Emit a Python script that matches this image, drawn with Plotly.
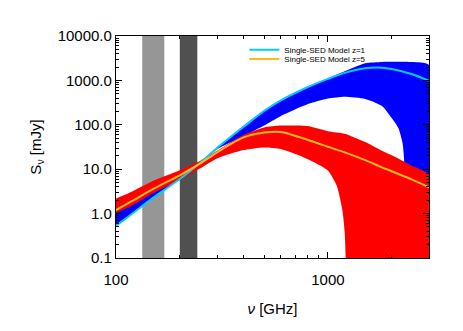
import plotly.graph_objects as go

# frequency grid in GHz shared by the model lines and band upper edges
nu_grid = [100, 120, 150, 200, 250, 300, 400, 500, 600, 800, 1000, 1200, 1500, 1800, 2000, 2500, 3000]

# single-SED model curves (mJy)
sed_z1 = [0.53, 1.02, 2.3, 6.0, 14, 30, 90, 205, 355, 700, 1080, 1480, 1870, 1930, 1800, 1380, 980]
sed_z5 = [1.2, 1.95, 3.6, 7.3, 13.5, 24, 52, 67, 69, 46, 32, 24, 16, 11, 9.0, 5.8, 3.9]

# z=1 envelope (blue)
blue_upper = [1.1, 1.7, 3.2, 6.6, 14.5, 31, 95, 212, 365, 720, 1110, 1600, 2430, 2600, 2620, 2580, 2220]
blue_lower_nu = [100, 120, 150, 200, 250, 300, 400, 500, 600, 800, 1000, 1200, 1500, 1800, 2000, 2150, 2250, 2290, 2310, 3000]
blue_lower = [0.55, 1.05, 2.35, 5.9, 13.5, 28, 56, 96, 158, 290, 390, 427, 381, 265, 142, 85, 39, 16, 0.01, 0.01]

# z=5 envelope (red)
red_upper = [2.2, 3.2, 5.5, 9.5, 15.5, 26, 59, 87, 96, 94, 72, 63, 41, 26, 20.5, 11.8, 7.4]
red_lower_nu = [100, 120, 150, 200, 250, 300, 400, 500, 600, 800, 1000, 1100, 1170, 1200, 1213, 1218, 3000]
red_lower = [1.05, 1.55, 2.9, 5.7, 10.5, 17.5, 27, 31, 28.5, 17, 9.4, 4.3, 1.2, 0.38, 0.1, 0.01, 0.01]

# observing bands (GHz)
band_light = [133, 169]
band_dark = [200, 242]

y_ticks = [0.1, 1, 10, 100, 1000, 10000]
y_ticktext = ["0.1", "1.0", "10.0", "100.0", "1000.0", "10000.0"]
x_ticks = [100, 1000]
x_ticktext = ["100", "1000"]

FONT = "Liberation Sans, Arial, sans-serif"


def envelope(nu_up, up, nu_lo, lo, color):
    """closed polygon between upper and lower edges"""
    return go.Scatter(
        x=nu_up + nu_lo[::-1],
        y=up + lo[::-1],
        fill="toself",
        fillcolor=color,
        mode="lines",
        line=dict(width=0, color=color, shape="spline", smoothing=0.6),
        hoverinfo="skip",
        showlegend=False,
    )


fig = go.Figure()
fig.add_trace(envelope(nu_grid, blue_upper, blue_lower_nu, blue_lower, "#0000FF"))
fig.add_trace(envelope(nu_grid, red_upper, red_lower_nu, red_lower, "#FF0000"))

fig.add_trace(go.Scatter(
    x=nu_grid, y=sed_z1, mode="lines", name="Single-SED Model z=1",
    line=dict(color="#00CCFF", width=2, shape="spline", smoothing=0.8),
    legend="legend",
))
fig.add_trace(go.Scatter(
    x=nu_grid, y=sed_z5, mode="lines", name="Single-SED Model z=5",
    line=dict(color="#FFBA1A", width=2, shape="spline", smoothing=0.8),
    legend="legend2",
))

# grey bands behind the curves
for band, col in [(band_light, "#969696"), (band_dark, "#505050")]:
    fig.add_shape(type="rect", xref="x", yref="paper", x0=band[0], x1=band[1],
                  y0=0, y1=1, fillcolor=col, line_width=0, layer="below")

minor_x = [m * 10 ** e for e in (2, 3) for m in range(2, 10)]
minor_y = [m * 10 ** e for e in range(-1, 4) for m in range(2, 10)]

axis_common = dict(
    type="log", showgrid=False, zeroline=False,
    showline=True, linecolor="black", linewidth=1.2, mirror="ticks",
    ticks="inside", ticklen=6, tickwidth=1, tickcolor="black",
    tickfont=dict(family=FONT, size=15, color="black"),
)

legend_common = dict(
    xanchor="left", yanchor="middle", bgcolor="rgba(0,0,0,0)",
    font=dict(family=FONT, size=8, color="black"), itemwidth=30,
    borderwidth=0,
)

# the page puts the figure 8px in from the corner, margins allow for that
fig.update_layout(
    width=463, height=331,
    margin=dict(l=108, r=42, t=28, b=81),
    paper_bgcolor="white", plot_bgcolor="white",
    font=dict(family=FONT, color="black"),
    xaxis=dict(
        axis_common, range=[2, 3.4771],
        tickvals=x_ticks, ticktext=x_ticktext, ticklabelstandoff=8,
        minor=dict(tickmode="array", tickvals=minor_x, ticks="inside", ticklen=3, tickcolor="black"),
        title=dict(text="<i>ν</i> [GHz]", font=dict(family=FONT, size=15), standoff=16),
    ),
    yaxis=dict(
        axis_common, range=[-1, 4],
        tickvals=y_ticks, ticktext=y_ticktext,
        minor=dict(tickmode="array", tickvals=minor_y, ticks="inside", ticklen=3, tickcolor="black"),
        title=dict(text="S<sub>ν</sub> [mJy]", font=dict(family=FONT, size=15), standoff=12),
    ),
    legend=dict(legend_common, x=0.41, y=0.938),
    legend2=dict(legend_common, x=0.41, y=0.896),
)

fig.write_html("out.html")
